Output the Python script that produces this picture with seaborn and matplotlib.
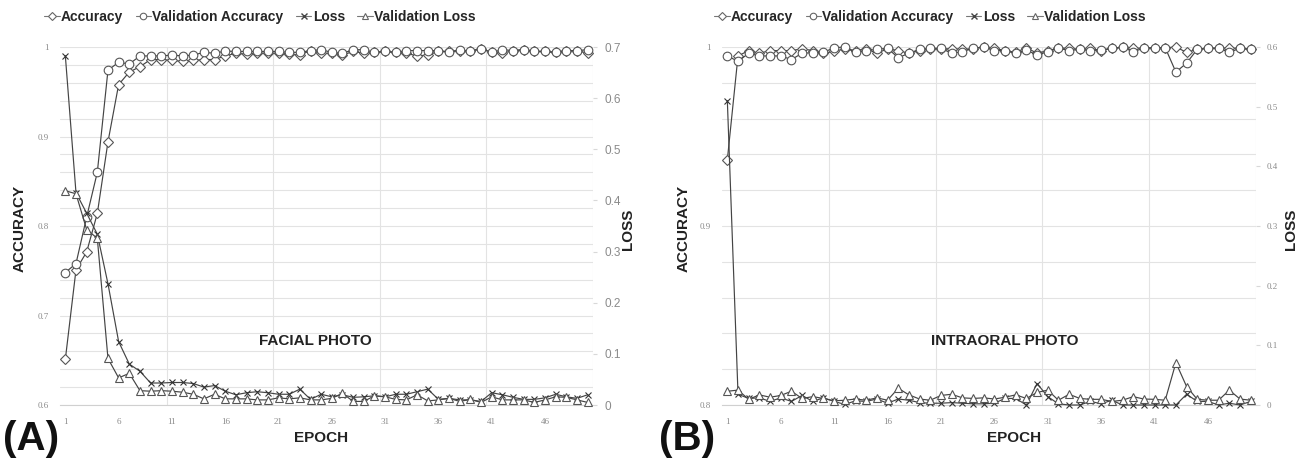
import numpy as np
import pandas as pd
import matplotlib
matplotlib.use("Agg")
import matplotlib.pyplot as plt
from matplotlib.lines import Line2D
import seaborn as sns

# ---------------- data ----------------
epochs = list(range(1, 51))

facial_acc = [0.651, 0.751, 0.771, 0.814, 0.894, 0.958, 0.972, 0.978, 0.986, 0.986,
              0.985, 0.984, 0.985, 0.986, 0.986, 0.990, 0.993, 0.992, 0.993, 0.993,
              0.993, 0.992, 0.991, 0.996, 0.993, 0.993, 0.991, 0.995, 0.993, 0.994,
              0.995, 0.994, 0.993, 0.990, 0.991, 0.995, 0.995, 0.996, 0.996, 0.998,
              0.994, 0.993, 0.996, 0.997, 0.995, 0.995, 0.994, 0.996, 0.996, 0.993]
facial_val_acc = [0.748, 0.758, 0.810, 0.860, 0.974, 0.983, 0.981, 0.990, 0.990, 0.990,
                  0.991, 0.990, 0.991, 0.994, 0.993, 0.9955, 0.995, 0.995, 0.995, 0.995,
                  0.995, 0.994, 0.994, 0.996, 0.997, 0.994, 0.993, 0.997, 0.997, 0.994,
                  0.995, 0.994, 0.996, 0.996, 0.996, 0.996, 0.994, 0.997, 0.995, 0.998,
                  0.994, 0.997, 0.996, 0.997, 0.995, 0.995, 0.994, 0.996, 0.996, 0.997]
facial_loss = [0.683, 0.415, 0.375, 0.334, 0.237, 0.124, 0.080, 0.066, 0.043, 0.043,
               0.044, 0.044, 0.042, 0.035, 0.038, 0.027, 0.020, 0.024, 0.026, 0.024,
               0.021, 0.021, 0.031, 0.011, 0.021, 0.016, 0.020, 0.015, 0.016, 0.018,
               0.016, 0.021, 0.021, 0.026, 0.031, 0.011, 0.013, 0.010, 0.010, 0.007,
               0.024, 0.020, 0.015, 0.011, 0.011, 0.014, 0.021, 0.016, 0.013, 0.020]
facial_val_loss = [0.419, 0.413, 0.343, 0.326, 0.091, 0.053, 0.062, 0.028, 0.027, 0.028,
                   0.027, 0.025, 0.021, 0.012, 0.021, 0.012, 0.012, 0.012, 0.010, 0.010,
                   0.014, 0.012, 0.014, 0.010, 0.010, 0.013, 0.023, 0.007, 0.007, 0.018,
                   0.016, 0.011, 0.010, 0.020, 0.008, 0.010, 0.013, 0.007, 0.011, 0.005,
                   0.016, 0.010, 0.010, 0.010, 0.005, 0.010, 0.016, 0.015, 0.010, 0.005]

intra_acc = [0.937, 0.995, 0.998, 0.9965, 0.998, 0.998, 0.998, 0.999, 0.998, 0.9965,
             0.9975, 0.999, 0.998, 0.999, 0.9965, 0.999, 0.998, 0.9965, 0.998, 0.999,
             0.999, 0.999, 0.9987, 0.999, 1.000, 0.9993, 0.998, 0.997, 0.9996, 0.9965,
             0.998, 0.9993, 0.9993, 0.9987, 0.9993, 0.998, 0.9993, 0.9998, 0.9993, 0.9993,
             0.9996, 0.9996, 1.000, 0.997, 0.9987, 0.9993, 0.9993, 0.9993, 0.9993, 0.9987]
intra_val_acc = [0.995, 0.992, 0.9965, 0.995, 0.995, 0.995, 0.993, 0.9965, 0.9968, 0.997,
                 0.9996, 1.000, 0.997, 0.998, 0.9987, 0.9993, 0.994, 0.9965, 0.9987, 0.9993,
                 0.9993, 0.9965, 0.9974, 0.9993, 1.000, 0.998, 0.998, 0.9965, 0.9983, 0.9955,
                 0.9974, 0.9993, 0.998, 0.9987, 0.998, 0.9983, 0.9993, 0.9998, 0.9974, 0.9993,
                 0.9996, 0.9996, 0.986, 0.991, 0.9987, 0.9993, 0.9993, 0.997, 0.9993, 0.9987]
intra_loss = [0.510, 0.018, 0.011, 0.012, 0.006, 0.012, 0.006, 0.016, 0.006, 0.012,
              0.006, 0.001, 0.007, 0.006, 0.010, 0.003, 0.010, 0.008, 0.004, 0.003,
              0.003, 0.004, 0.003, 0.002, 0.002, 0.003, 0.011, 0.011, 0.000, 0.036,
              0.014, 0.002, 0.000, 0.000, 0.006, 0.002, 0.008, 0.000, 0.000, 0.000,
              0.000, 0.000, 0.000, 0.018, 0.006, 0.006, 0.000, 0.003, 0.000, 0.006]
intra_val_loss = [0.023, 0.025, 0.0095, 0.017, 0.013, 0.016, 0.023, 0.011, 0.014, 0.011,
                  0.007, 0.008, 0.010, 0.008, 0.012, 0.008, 0.028, 0.017, 0.010, 0.008,
                  0.016, 0.018, 0.012, 0.011, 0.012, 0.010, 0.013, 0.017, 0.011, 0.021,
                  0.025, 0.008, 0.018, 0.011, 0.0095, 0.0095, 0.006, 0.008, 0.014, 0.010,
                  0.0095, 0.008, 0.071, 0.031, 0.0095, 0.008, 0.008, 0.025, 0.010, 0.008]

series_names = ["Accuracy", "Validation Accuracy", "Loss", "Validation Loss"]
x_ticks = [1, 6, 11, 16, 21, 26, 31, 36, 41, 46]
panel_titles = ["FACIAL PHOTO", "INTRAORAL PHOTO"]
panel_letters = ["(A)", "(B)"]

# ---------------- style ----------------
sns.set_style("white")
plt.rcParams["font.family"] = ["Liberation Sans", "DejaVu Sans"]

LINE = "#444444"
EDGE = "#555555"
GRID = "#e3e3e3"
TICK = "#8a8a8a"

markers = {"Accuracy": "D", "Validation Accuracy": "o", "Loss": "x", "Validation Loss": "^"}
msize = {"Accuracy": 5.2, "Validation Accuracy": 6.2, "Loss": 4.5, "Validation Loss": 6.0}

W, H = 1306, 461
fig = plt.figure(figsize=(W / 100, H / 100), dpi=100)

panels = [
    dict(left=60, right=593, acc=(facial_acc, facial_val_acc), loss=(facial_loss, facial_val_loss),
         ylim=(0.6, 1.0), yticks=[0.6, 0.7, 0.8, 0.9, 1.0], ylabels=["0.6", "0.7", "0.8", "0.9", "1"],
         lmax=0.7, lticks=[0, 0.1, 0.2, 0.3, 0.4, 0.5, 0.6, 0.7], rsize=8.5, lsize=6.5,
         text_xy=(0.48, 0.18), leg_x=260, acc_lab_x=20, loss_lab_x=628, epoch_x=321, letter_x=3),
    dict(left=722, right=1256, acc=(intra_acc, intra_val_acc), loss=(intra_loss, intra_val_loss),
         ylim=(0.8, 1.0), yticks=[0.8, 0.9, 1.0], ylabels=["0.8", "0.9", "1"],
         lmax=0.6, lticks=[0, 0.1, 0.2, 0.3, 0.4, 0.5, 0.6], rsize=6.5, lsize=6.5,
         text_xy=(0.53, 0.18), leg_x=930, acc_lab_x=684, loss_lab_x=1291, epoch_x=1014, letter_x=659),
]

top_px, bot_px = 47, 405

for i, p in enumerate(panels):
    ax = fig.add_axes([p["left"] / W, 1 - bot_px / H, (p["right"] - p["left"]) / W, (bot_px - top_px) / H])
    ax2 = ax.twinx()

    df_acc = pd.DataFrame({"epoch": epochs, series_names[0]: p["acc"][0], series_names[1]: p["acc"][1]})
    df_loss = pd.DataFrame({"epoch": epochs, series_names[2]: p["loss"][0], series_names[3]: p["loss"][1]})

    for name in series_names[:2]:
        sns.lineplot(data=df_acc, x="epoch", y=name, ax=ax, color=LINE, lw=0.85,
                     marker=markers[name], markersize=msize[name], markerfacecolor="white",
                     markeredgecolor=EDGE, markeredgewidth=0.8, clip_on=False, zorder=3)
    for name in series_names[2:]:
        kw = dict(markerfacecolor="white") if name != "Loss" else {}
        sns.lineplot(data=df_loss, x="epoch", y=name, ax=ax2, color=LINE, lw=0.85,
                     marker=markers[name], markersize=msize[name],
                     markeredgecolor=EDGE if name != "Loss" else "#333333", markeredgewidth=0.8,
                     clip_on=False, zorder=3, **kw)

    ax.set_xlim(0.5, 50.5)
    ax.set_ylim(*p["ylim"])
    ax.set_xticks(x_ticks)
    ax.set_xticklabels([str(t) for t in x_ticks], fontsize=6.5, color=TICK, family="Liberation Serif")
    ax.set_xticks([10.5, 20.5, 30.5, 40.5, 50.5], minor=True)
    ax.set_yticks(p["yticks"])
    ax.set_yticklabels(p["ylabels"], fontsize=p["lsize"], color=TICK, family="Liberation Serif")
    ax.set_yticks(np.arange(p["ylim"][0], p["ylim"][1] + 1e-9, 0.02), minor=True)
    ax.grid(True, which="both", axis="y", color=GRID, lw=0.8)
    ax.grid(True, which="minor", axis="x", color=GRID, lw=0.8)
    ax.grid(False, which="major", axis="x")
    ax.tick_params(axis="both", which="minor", length=0)
    ax.tick_params(axis="x", which="major", length=3, color="#cccccc", pad=6)
    ax.tick_params(axis="y", which="major", length=0, pad=8)
    ax.set_xlabel("")
    ax.set_ylabel("")
    for s in ["top", "right", "left"]:
        ax.spines[s].set_visible(False)
    ax.spines["bottom"].set_color("#d0d0d0")

    ax2.set_ylim(0, p["lmax"])
    ax2.set_yticks(p["lticks"])
    ax2.set_yticklabels(["0"] + [f"{t:.1f}" for t in p["lticks"][1:]], fontsize=p["rsize"], color=TICK,
                        family="Liberation Sans" if i == 0 else "Liberation Serif")
    ax2.tick_params(axis="y", length=3, color="#d8d8d8", pad=5)
    ax2.set_ylabel("")
    for s in ["top", "right", "left", "bottom"]:
        ax2.spines[s].set_visible(False)

    ax.text(p["text_xy"][0], p["text_xy"][1], panel_titles[i], transform=ax.transAxes,
            ha="center", va="center", fontsize=11, fontweight="bold", color="#222222")

    fig.text(p["acc_lab_x"] / W, 1 - 228 / H, "ACCURACY", rotation=90, ha="center", va="center",
             fontsize=11, fontweight="bold", color="#222222")
    fig.text(p["loss_lab_x"] / W, 1 - 229 / H, "LOSS", rotation=90, ha="center", va="center",
             fontsize=11, fontweight="bold", color="#222222")
    fig.text(p["epoch_x"] / W, 1 - 438 / H, "EPOCH", ha="center", va="center",
             fontsize=11, fontweight="bold", color="#222222")
    fig.text(p["letter_x"] / W, 1 - 439 / H, panel_letters[i], ha="left", va="center",
             fontsize=29, fontweight="bold", color="#111111")

    handles = []
    for name in series_names:
        if name == "Loss":
            h = Line2D([], [], color="#777777", lw=0.8, marker="x", markersize=4.0,
                       markeredgecolor="#444444")
        else:
            h = Line2D([], [], color="#777777", lw=0.8, marker=markers[name], markersize=msize[name] - 1.5,
                       markerfacecolor="white", markeredgecolor="#666666", markeredgewidth=0.8)
        handles.append(h)
    fig.legend(handles, series_names, loc="center", bbox_to_anchor=(p["leg_x"] / W, 1 - 17 / H),
               ncol=4, frameon=False, handlelength=1.1, handletextpad=0.1, columnspacing=0.9,
               prop=dict(family="Liberation Sans", weight="bold", size=10))

fig.savefig("out.png", dpi=100, facecolor="white")
